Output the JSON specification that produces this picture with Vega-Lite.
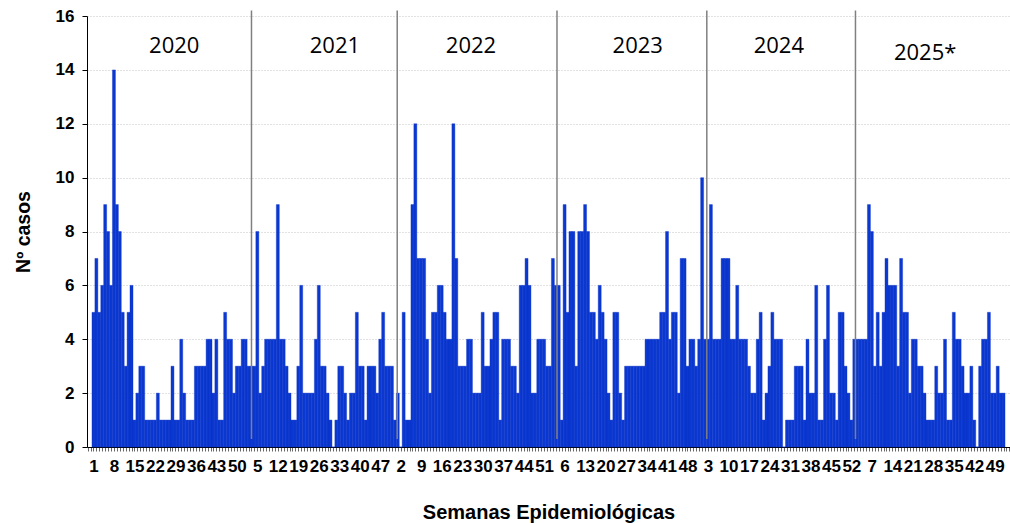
{
  "$schema": "https://vega.github.io/schema/vega-lite/v6.json",
  "width": 923,
  "height": 431,
  "autosize": {"type": "none"},
  "padding": {"left": 87, "top": 16, "right": 0, "bottom": 76},
  "background": "white",
  "config": {"view": {"stroke": null}, "font": "Liberation Sans"},
  "datasets": {
    "casos": [
      {"i":1,"n":5},{"i":2,"n":7},{"i":3,"n":5},{"i":4,"n":6},{"i":5,"n":9},{"i":6,"n":8},{"i":7,"n":6},{"i":8,"n":14},{"i":9,"n":9},{"i":10,"n":8},
      {"i":11,"n":5},{"i":12,"n":3},{"i":13,"n":5},{"i":14,"n":6},{"i":15,"n":1},{"i":16,"n":2},{"i":17,"n":3},{"i":18,"n":3},{"i":19,"n":1},{"i":20,"n":1},
      {"i":21,"n":1},{"i":22,"n":1},{"i":23,"n":2},{"i":24,"n":1},{"i":25,"n":1},{"i":26,"n":1},{"i":27,"n":1},{"i":28,"n":3},{"i":29,"n":1},{"i":30,"n":1},
      {"i":31,"n":4},{"i":32,"n":2},{"i":33,"n":1},{"i":34,"n":1},{"i":35,"n":1},{"i":36,"n":3},{"i":37,"n":3},{"i":38,"n":3},{"i":39,"n":3},{"i":40,"n":4},
      {"i":41,"n":4},{"i":42,"n":2},{"i":43,"n":4},{"i":44,"n":1},{"i":45,"n":1},{"i":46,"n":5},{"i":47,"n":4},{"i":48,"n":4},{"i":49,"n":2},{"i":50,"n":3},
      {"i":51,"n":3},{"i":52,"n":4},
      {"i":53,"n":4},{"i":54,"n":3},{"i":55,"n":3},{"i":56,"n":3},{"i":57,"n":8},{"i":58,"n":2},{"i":59,"n":3},{"i":60,"n":4},{"i":61,"n":4},{"i":62,"n":4},
      {"i":63,"n":4},{"i":64,"n":9},{"i":65,"n":4},{"i":66,"n":4},{"i":67,"n":3},{"i":68,"n":2},{"i":69,"n":1},{"i":70,"n":1},{"i":71,"n":3},{"i":72,"n":6},
      {"i":73,"n":2},{"i":74,"n":2},{"i":75,"n":2},{"i":76,"n":2},{"i":77,"n":4},{"i":78,"n":6},{"i":79,"n":3},{"i":80,"n":3},{"i":81,"n":2},{"i":82,"n":1},
      {"i":83,"n":0},{"i":84,"n":1},{"i":85,"n":3},{"i":86,"n":3},{"i":87,"n":2},{"i":88,"n":1},{"i":89,"n":2},{"i":90,"n":2},{"i":91,"n":5},{"i":92,"n":3},
      {"i":93,"n":3},{"i":94,"n":1},{"i":95,"n":3},{"i":96,"n":3},{"i":97,"n":3},{"i":98,"n":2},{"i":99,"n":4},{"i":100,"n":5},{"i":101,"n":3},{"i":102,"n":3},
      {"i":103,"n":3},{"i":104,"n":1},
      {"i":105,"n":2},{"i":106,"n":0},{"i":107,"n":5},{"i":108,"n":1},{"i":109,"n":1},{"i":110,"n":9},{"i":111,"n":12},{"i":112,"n":7},{"i":113,"n":7},{"i":114,"n":7},
      {"i":115,"n":4},{"i":116,"n":2},{"i":117,"n":5},{"i":118,"n":5},{"i":119,"n":6},{"i":120,"n":6},{"i":121,"n":5},{"i":122,"n":4},{"i":123,"n":4},{"i":124,"n":12},
      {"i":125,"n":7},{"i":126,"n":3},{"i":127,"n":3},{"i":128,"n":3},{"i":129,"n":4},{"i":130,"n":4},{"i":131,"n":2},{"i":132,"n":2},{"i":133,"n":2},{"i":134,"n":5},
      {"i":135,"n":3},{"i":136,"n":3},{"i":137,"n":4},{"i":138,"n":5},{"i":139,"n":5},{"i":140,"n":1},{"i":141,"n":4},{"i":142,"n":4},{"i":143,"n":4},{"i":144,"n":3},
      {"i":145,"n":3},{"i":146,"n":2},{"i":147,"n":6},{"i":148,"n":6},{"i":149,"n":7},{"i":150,"n":6},{"i":151,"n":2},{"i":152,"n":2},{"i":153,"n":4},{"i":154,"n":4},
      {"i":155,"n":4},{"i":156,"n":3},
      {"i":157,"n":3},{"i":158,"n":7},{"i":159,"n":6},{"i":160,"n":6},{"i":161,"n":1},{"i":162,"n":9},{"i":163,"n":5},{"i":164,"n":8},{"i":165,"n":8},{"i":166,"n":3},
      {"i":167,"n":8},{"i":168,"n":8},{"i":169,"n":9},{"i":170,"n":8},{"i":171,"n":5},{"i":172,"n":5},{"i":173,"n":4},{"i":174,"n":6},{"i":175,"n":5},{"i":176,"n":4},
      {"i":177,"n":2},{"i":178,"n":1},{"i":179,"n":5},{"i":180,"n":5},{"i":181,"n":2},{"i":182,"n":1},{"i":183,"n":3},{"i":184,"n":3},{"i":185,"n":3},{"i":186,"n":3},
      {"i":187,"n":3},{"i":188,"n":3},{"i":189,"n":3},{"i":190,"n":4},{"i":191,"n":4},{"i":192,"n":4},{"i":193,"n":4},{"i":194,"n":4},{"i":195,"n":5},{"i":196,"n":5},
      {"i":197,"n":8},{"i":198,"n":4},{"i":199,"n":5},{"i":200,"n":5},{"i":201,"n":2},{"i":202,"n":7},{"i":203,"n":7},{"i":204,"n":3},{"i":205,"n":4},{"i":206,"n":4},
      {"i":207,"n":3},{"i":208,"n":4},
      {"i":209,"n":10},{"i":210,"n":4},{"i":211,"n":4},{"i":212,"n":9},{"i":213,"n":4},{"i":214,"n":4},{"i":215,"n":4},{"i":216,"n":7},{"i":217,"n":7},{"i":218,"n":7},
      {"i":219,"n":4},{"i":220,"n":4},{"i":221,"n":6},{"i":222,"n":4},{"i":223,"n":4},{"i":224,"n":4},{"i":225,"n":3},{"i":226,"n":2},{"i":227,"n":2},{"i":228,"n":4},
      {"i":229,"n":5},{"i":230,"n":1},{"i":231,"n":2},{"i":232,"n":3},{"i":233,"n":5},{"i":234,"n":4},{"i":235,"n":4},{"i":236,"n":4},{"i":237,"n":0},{"i":238,"n":1},
      {"i":239,"n":1},{"i":240,"n":1},{"i":241,"n":3},{"i":242,"n":3},{"i":243,"n":3},{"i":244,"n":1},{"i":245,"n":4},{"i":246,"n":2},{"i":247,"n":2},{"i":248,"n":6},
      {"i":249,"n":1},{"i":250,"n":1},{"i":251,"n":4},{"i":252,"n":6},{"i":253,"n":2},{"i":254,"n":2},{"i":255,"n":1},{"i":256,"n":5},{"i":257,"n":5},{"i":258,"n":3},
      {"i":259,"n":2},{"i":260,"n":1},
      {"i":261,"n":4},{"i":262,"n":4},{"i":263,"n":4},{"i":264,"n":4},{"i":265,"n":4},{"i":266,"n":9},{"i":267,"n":8},{"i":268,"n":3},{"i":269,"n":5},{"i":270,"n":3},
      {"i":271,"n":5},{"i":272,"n":7},{"i":273,"n":6},{"i":274,"n":6},{"i":275,"n":6},{"i":276,"n":3},{"i":277,"n":7},{"i":278,"n":5},{"i":279,"n":5},{"i":280,"n":2},
      {"i":281,"n":4},{"i":282,"n":4},{"i":283,"n":3},{"i":284,"n":3},{"i":285,"n":2},{"i":286,"n":1},{"i":287,"n":1},{"i":288,"n":1},{"i":289,"n":3},{"i":290,"n":2},
      {"i":291,"n":2},{"i":292,"n":4},{"i":293,"n":1},{"i":294,"n":1},{"i":295,"n":5},{"i":296,"n":4},{"i":297,"n":4},{"i":298,"n":3},{"i":299,"n":2},{"i":300,"n":2},
      {"i":301,"n":3},{"i":302,"n":1},{"i":303,"n":0},{"i":304,"n":3},{"i":305,"n":4},{"i":306,"n":4},{"i":307,"n":5},{"i":308,"n":2},{"i":309,"n":2},{"i":310,"n":3},
      {"i":311,"n":2},{"i":312,"n":2}
    ],
    "separadores": [{"x": 55.0}, {"x": 104.8}, {"x": 159.4}, {"x": 210.6}, {"x": 261.4}],
    "anos": [
      {"ano": "2020", "x": 28.6},
      {"ano": "2021", "x": 83.5},
      {"ano": "2022", "x": 130.0},
      {"ano": "2023", "x": 187.0},
      {"ano": "2024", "x": 235.2}
    ],
    "ano_parcial": [{"ano": "2025*", "x": 285.2}]
  },
  "layer": [
    {
      "data": {"name": "casos"},
      "mark": {"type": "bar", "width": 2.96, "color": "#0a38d0", "stroke": "#0a30c4", "strokeWidth": 0.4},
      "encoding": {
        "x": {
          "field": "i", "type": "quantitative",
          "scale": {"domain": [0.5, 312.5], "nice": false, "zero": false},
          "axis": {
            "title": "Semanas Epidemiológicas",
            "tickCount": 312,
            "labelExpr": "(datum.value - 1) % 7 == 0 ? '' + ((datum.value - 1) % 52 + 1) : ''",
            "labelOverlap": false, "labelFlush": false, "labelBound": false, "labelAngle": 0,
            "labelFont": "Liberation Sans", "labelFontWeight": "bold", "labelFontSize": 17, "labelColor": "black",
            "labelPadding": 7,
            "tickColor": "black", "tickSize": 4, "tickWidth": 0.6,
            "domainColor": "black", "domainWidth": 1,
            "grid": false,
            "titleFont": "Liberation Sans", "titleFontSize": 20, "titleFontWeight": "bold", "titleColor": "black",
            "titlePadding": 28
          }
        },
        "y": {
          "field": "n", "type": "quantitative",
          "scale": {"domain": [0, 16], "nice": false},
          "axis": {
            "title": "Nº casos",
            "values": [0, 2, 4, 6, 8, 10, 12, 14, 16],
            "grid": true, "gridColor": "#c4c4c4", "gridDash": [1, 2], "gridWidth": 1,
            "labelFont": "Liberation Sans", "labelFontWeight": "bold", "labelFontSize": 17, "labelColor": "black",
            "labelPadding": 8,
            "tickColor": "black", "tickSize": 5,
            "domainColor": "black", "domainWidth": 1,
            "titleFont": "Liberation Sans", "titleFontSize": 19.5, "titleFontWeight": "bold", "titleColor": "black",
            "titlePadding": 22
          }
        }
      }
    },
    {
      "data": {"name": "separadores"},
      "mark": {"type": "rule", "color": "#808080", "strokeWidth": 1.5},
      "encoding": {
        "x": {"field": "x", "type": "quantitative"},
        "y": {"datum": 16.2},
        "y2": {"datum": 0.3}
      }
    },
    {
      "data": {"name": "anos"},
      "mark": {"type": "text", "font": "Open Sans", "fontSize": 22, "color": "black", "baseline": "middle", "align": "center"},
      "encoding": {
        "x": {"field": "x", "type": "quantitative"},
        "y": {"datum": 14.88},
        "text": {"field": "ano"}
      }
    },
    {
      "data": {"name": "ano_parcial"},
      "mark": {"type": "text", "font": "Open Sans", "fontSize": 22, "color": "black", "baseline": "middle", "align": "center"},
      "encoding": {
        "x": {"field": "x", "type": "quantitative"},
        "y": {"datum": 14.63},
        "text": {"field": "ano"}
      }
    }
  ]
}
